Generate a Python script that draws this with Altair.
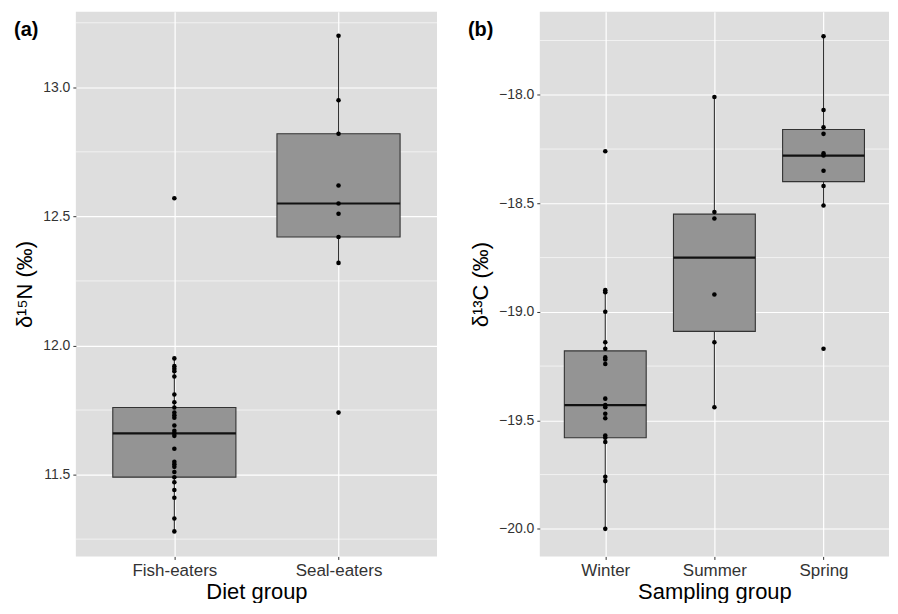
import altair as alt
import pandas as pd

# ---------------- data ----------------
panel_tags = ["(a)", "(b)"]

diet_groups = ["Fish-eaters", "Seal-eaters"]
fish_d15n = [11.95, 11.92, 11.91, 11.90, 11.88, 11.81, 11.78, 11.76, 11.74, 11.73,
             11.72, 11.69, 11.67, 11.66, 11.65, 11.60, 11.55, 11.54, 11.53, 11.51,
             11.49, 11.47, 11.44, 11.41, 11.33, 11.28, 12.57]
seal_d15n = [13.20, 12.95, 12.82, 12.62, 12.55, 12.51, 12.42, 12.32, 11.74]
# box statistics: lower whisker, Q1, median, Q3, upper whisker
diet_lo = [11.28, 12.32]
diet_q1 = [11.49, 12.42]
diet_med = [11.66, 12.55]
diet_q3 = [11.76, 12.82]
diet_hi = [11.95, 13.20]

season_groups = ["Winter", "Summer", "Spring"]
winter_d13c = [-18.26, -18.90, -18.91, -19.00, -19.14, -19.17, -19.21, -19.22, -19.24,
               -19.40, -19.43, -19.44, -19.47, -19.49, -19.57, -19.58, -19.60, -19.76,
               -19.78, -20.00]
summer_d13c = [-18.01, -18.54, -18.57, -18.92, -19.14, -19.44]
spring_d13c = [-17.73, -18.07, -18.15, -18.18, -18.27, -18.28, -18.35, -18.42, -18.51, -19.17]
season_lo = [-20.00, -19.44, -18.51]
season_q1 = [-19.58, -19.09, -18.40]
season_med = [-19.43, -18.75, -18.28]
season_q3 = [-19.18, -18.55, -18.16]
season_hi = [-18.90, -18.01, -17.73]

d15n_ticks = [11.5, 12.0, 12.5, 13.0]
d15n_minor = [11.25, 11.75, 12.25, 12.75, 13.25]
d15n_domain = [11.183, 13.293]
d13c_ticks = [-20.0, -19.5, -19.0, -18.5, -18.0]
d13c_minor = [-19.75, -19.25, -18.75, -18.25, -17.75]
d13c_domain = [-20.127, -17.617]

FONT = "Liberation Sans"


def panel(groups, series, lo, q1, med, q3, hi, ticks, minor, domain,
          xtitle, ytitle, tag, width, height, tag_x):
    n = len(groups)
    pts = pd.DataFrame({
        "pos": [i + 1 for i, s in enumerate(series) for _ in s],
        "value": [v for s in series for v in s],
    })
    box = pd.DataFrame({
        "pos": list(range(1, n + 1)),
        "left": [i + 1 - 0.375 for i in range(n)],
        "right": [i + 1 + 0.375 for i in range(n)],
        "lo": lo, "q1": q1, "med": med, "q3": q3, "hi": hi,
    })
    label_expr = "[" + ",".join("'" + g + "'" for g in groups) + "][datum.value - 1]"
    xscale = alt.Scale(domain=[0.4, n + 0.6], nice=False, zero=False)
    xaxis = alt.Axis(values=list(range(1, n + 1)), labelExpr=label_expr,
                     title=xtitle, grid=True)
    yscale = alt.Scale(domain=domain, nice=False, zero=False)
    yaxis = alt.Axis(values=ticks, format=".1f", title=ytitle, grid=True)

    def X(f):
        return alt.X(f, scale=xscale, axis=xaxis)

    def Y(f):
        return alt.Y(f, scale=yscale, axis=yaxis)

    minor_grid = alt.Chart(pd.DataFrame({"v": minor})).mark_rule(
        color="white", strokeWidth=0.6).encode(y=Y("v:Q"))
    whisk = alt.Chart(box).mark_rule(color="#333333", strokeWidth=1.1).encode(
        x=X("pos:Q"), y=Y("lo:Q"), y2="hi:Q")
    boxes = alt.Chart(box).mark_bar(fill="#949494", stroke="#333333", strokeWidth=1.1).encode(
        x=X("left:Q"), x2="right:Q", y=Y("q1:Q"), y2="q3:Q")
    medians = alt.Chart(box).mark_rule(color="#111111", strokeWidth=2.2).encode(
        x=X("left:Q"), x2="right:Q", y=Y("med:Q"))
    dots = alt.Chart(pts).mark_circle(color="black", size=21, opacity=1).encode(
        x=X("pos:Q"), y=Y("value:Q"))
    tag_text = alt.Chart(pd.DataFrame({"t": [tag]})).mark_text(
        font=FONT, fontSize=20, fontWeight="bold", align="left", baseline="alphabetic",
        color="black").encode(text="t:N", x=alt.value(tag_x), y=alt.value(24))
    return alt.layer(minor_grid, whisk, boxes, medians, dots, tag_text).properties(
        width=width, height=height)


pa = panel(diet_groups, [fish_d15n, seal_d15n], diet_lo, diet_q1, diet_med, diet_q3, diet_hi,
           d15n_ticks, d15n_minor, d15n_domain, "Diet group", "δ¹⁵N (‰)", panel_tags[0],
           362, 546, -62)
pb = panel(season_groups, [winter_d13c, summer_d13c, spring_d13c],
           season_lo, season_q1, season_med, season_q3, season_hi,
           d13c_ticks, d13c_minor, d13c_domain, "Sampling group", "δ¹³C (‰)", panel_tags[1],
           350, 546, -72)

chart = alt.hconcat(pa, pb, spacing=30).properties(
    padding={"left": 5, "top": 3, "right": 0, "bottom": 0}
).configure_view(
    fill="#DEDEDE", stroke=None
).configure_axis(
    domain=False, tickColor="#333333", tickSize=3, tickWidth=1,
    gridColor="white", gridWidth=1.2,
    labelFont=FONT, titleFont=FONT, labelColor="#333333", titleColor="black",
    titleFontWeight="normal",
).configure_axisX(
    labelFontSize=17, titleFontSize=22, labelPadding=3, titlePadding=3,
).configure_axisY(
    labelFontSize=14, titleFontSize=22, labelPadding=3, titlePadding=6,
)

chart.save("out.html", embed_options={"renderer": "svg", "actions": False})
